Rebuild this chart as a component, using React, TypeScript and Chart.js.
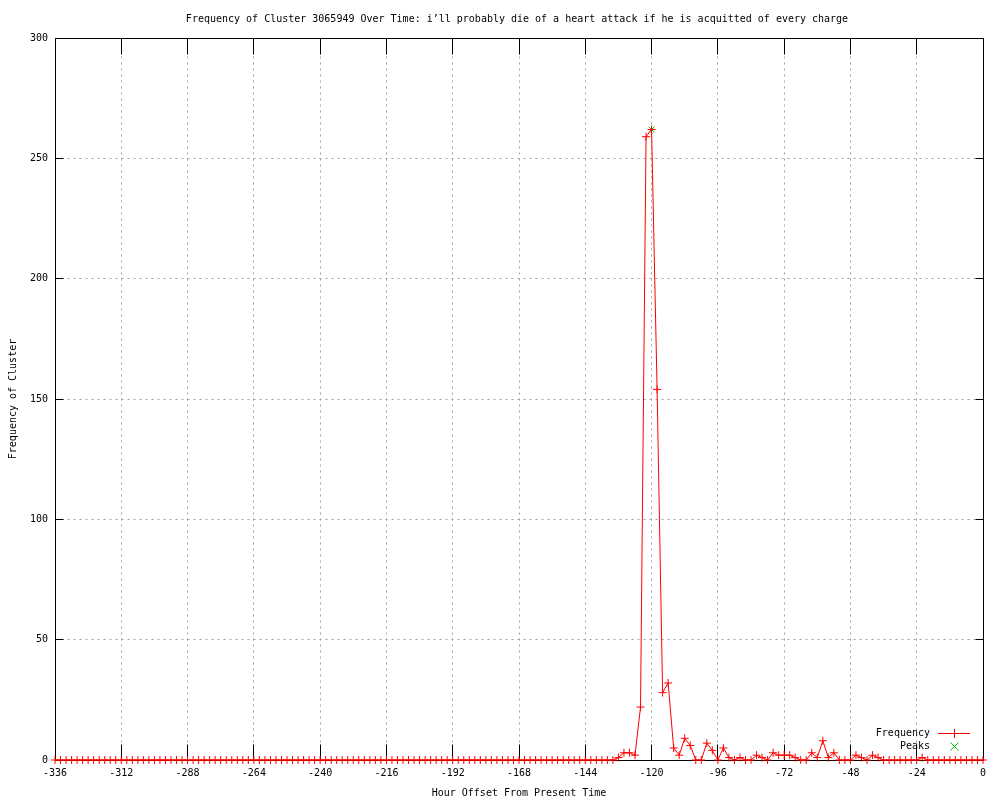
import React, { useEffect, useRef } from "react";
import { Chart, registerables } from "chart.js";

Chart.register(...registerables);

const TITLE =
  "Frequency of Cluster 3065949 Over Time: i\u2019ll probably die of a heart attack if he is acquitted of every charge";
const X_LABEL = "Hour Offset From Present Time";
const Y_LABEL = "Frequency of Cluster";

const hours = [
  -336, -334, -332, -330, -328, -326, -324, -322, -320, -318, -316, -314,
  -312, -310, -308, -306, -304, -302, -300, -298, -296, -294, -292, -290,
  -288, -286, -284, -282, -280, -278, -276, -274, -272, -270, -268, -266,
  -264, -262, -260, -258, -256, -254, -252, -250, -248, -246, -244, -242,
  -240, -238, -236, -234, -232, -230, -228, -226, -224, -222, -220, -218,
  -216, -214, -212, -210, -208, -206, -204, -202, -200, -198, -196, -194,
  -192, -190, -188, -186, -184, -182, -180, -178, -176, -174, -172, -170,
  -168, -166, -164, -162, -160, -158, -156, -154, -152, -150, -148, -146,
  -144, -142, -140, -138, -136, -134, -132, -130, -128, -126, -124, -122,
  -120, -118, -116, -114, -112, -110, -108, -106, -104, -102, -100, -98,
  -96, -94, -92, -90, -88, -86, -84, -82, -80, -78, -76, -74,
  -72, -70, -68, -66, -64, -62, -60, -58, -56, -54, -52, -50,
  -48, -46, -44, -42, -40, -38, -36, -34, -32, -30, -28, -26,
  -24, -22, -20, -18, -16, -14, -12, -10, -8, -6, -4, -2,
  0,
];

const frequency = [
  0, 0, 0, 0, 0, 0, 0, 0, 0, 0, 0, 0,
  0, 0, 0, 0, 0, 0, 0, 0, 0, 0, 0, 0,
  0, 0, 0, 0, 0, 0, 0, 0, 0, 0, 0, 0,
  0, 0, 0, 0, 0, 0, 0, 0, 0, 0, 0, 0,
  0, 0, 0, 0, 0, 0, 0, 0, 0, 0, 0, 0,
  0, 0, 0, 0, 0, 0, 0, 0, 0, 0, 0, 0,
  0, 0, 0, 0, 0, 0, 0, 0, 0, 0, 0, 0,
  0, 0, 0, 0, 0, 0, 0, 0, 0, 0, 0, 0,
  0, 0, 0, 0, 0, 0, 1, 3, 3, 2, 22, 259,
  262, 154, 28, 32, 5, 2, 9, 6, 0, 0, 7, 4,
  0, 5, 1, 0, 1, 0, 0, 2, 1, 0, 3, 2,
  2, 2, 1, 0, 0, 3, 1, 8, 1, 3, 0, 0,
  0, 2, 1, 0, 2, 1, 0, 0, 0, 0, 0, 0,
  0, 1, 0, 0, 0, 0, 0, 0, 0, 0, 0, 0,
  0,
];

const peakHours = [-120];
const peakValues = [262];

const xTickStep = 24;
const yTickStep = 50;
const xMin = -336;
const xMax = 0;
const yMin = 0;
const yMax = 300;

const FONT = "'DejaVu Sans Mono', 'Liberation Mono', monospace";

const gnuplotPlugin = {
  id: "gnuplotDecor",
  beforeDraw(chart: any) {
    const ctx = chart.ctx;
    ctx.save();
    ctx.fillStyle = "#ffffff";
    ctx.fillRect(0, 0, chart.width, chart.height);
    ctx.restore();
  },
  beforeDatasetsDraw(chart: any) {
    const { ctx, chartArea: a, scales } = chart;
    const xs = scales.x;
    const ys = scales.y;
    const L = Math.floor(a.left) + 0.5;
    const R = Math.floor(a.right) + 0.5;
    const T = Math.floor(a.top) + 0.5;
    const B = Math.floor(a.bottom) + 0.5;
    ctx.save();
    ctx.lineWidth = 1;
    // grid
    ctx.strokeStyle = "#a0a0a0";
    ctx.setLineDash([2, 4]);
    xs.ticks.forEach((t: any) => {
      const px = Math.floor(xs.getPixelForValue(t.value)) + 0.5;
      ctx.beginPath();
      ctx.moveTo(px, T);
      ctx.lineTo(px, B);
      ctx.stroke();
    });
    ys.ticks.forEach((t: any) => {
      const py = Math.floor(ys.getPixelForValue(t.value)) + 0.5;
      ctx.beginPath();
      ctx.moveTo(L, py);
      ctx.lineTo(R, py);
      ctx.stroke();
    });
    ctx.setLineDash([]);
    // ticks
    ctx.strokeStyle = "#000000";
    xs.ticks.forEach((t: any) => {
      const px = Math.floor(xs.getPixelForValue(t.value)) + 0.5;
      ctx.beginPath();
      ctx.moveTo(px, B);
      ctx.lineTo(px, B - 16);
      ctx.moveTo(px, T);
      ctx.lineTo(px, T + 16);
      ctx.stroke();
    });
    ys.ticks.forEach((t: any) => {
      const py = Math.floor(ys.getPixelForValue(t.value)) + 0.5;
      ctx.beginPath();
      ctx.moveTo(L, py);
      ctx.lineTo(L + 8, py);
      ctx.moveTo(R, py);
      ctx.lineTo(R - 8, py);
      ctx.stroke();
    });
    // border
    ctx.beginPath();
    ctx.rect(L, T, R - L, B - T);
    ctx.stroke();
    ctx.restore();
  },
  afterDraw(chart: any) {
    const { ctx, chartArea: a } = chart;
    ctx.save();
    ctx.fillStyle = "#000000";
    ctx.font = `10px ${FONT}`;
    ctx.textBaseline = "middle";
    // title
    ctx.textAlign = "center";
    ctx.fillText(TITLE, 517, 19);
    // x label
    ctx.fillText(X_LABEL, (a.left + a.right) / 2, 793);
    // y label
    ctx.save();
    ctx.translate(13, (a.top + a.bottom) / 2);
    ctx.rotate(-Math.PI / 2);
    ctx.fillText(Y_LABEL, 0, 0);
    ctx.restore();
    // legend
    ctx.textAlign = "right";
    ctx.fillText("Frequency", 930, 733);
    ctx.fillText("Peaks", 930, 746);
    ctx.strokeStyle = "#ff0000";
    ctx.lineWidth = 1;
    ctx.beginPath();
    ctx.moveTo(938, 733.5);
    ctx.lineTo(970, 733.5);
    ctx.moveTo(954.5, 729);
    ctx.lineTo(954.5, 738);
    ctx.stroke();
    ctx.strokeStyle = "#00c000";
    ctx.beginPath();
    ctx.moveTo(950.5, 742.5);
    ctx.lineTo(958.5, 750.5);
    ctx.moveTo(958.5, 742.5);
    ctx.lineTo(950.5, 750.5);
    ctx.stroke();
    ctx.restore();
  },
};

export default function App() {
  const ref = useRef<HTMLCanvasElement | null>(null);

  useEffect(() => {
    if (!ref.current) return;
    const freqData = hours.map((h, i) => ({ x: h, y: frequency[i] }));
    const peakData = peakHours.map((h, i) => ({ x: h, y: peakValues[i] }));
    const chart = new Chart(ref.current, {
      type: "line",
      data: {
        datasets: [
          {
            label: "Frequency",
            data: freqData,
            borderColor: "#ff0000",
            backgroundColor: "#ff0000",
            borderWidth: 1,
            pointStyle: "cross",
            pointRadius: 4,
            pointBorderColor: "#ff0000",
            pointBorderWidth: 1,
            pointHoverRadius: 4,
            tension: 0,
            fill: false,
            clip: false,
          } as any,
          {
            label: "Peaks",
            data: peakData,
            showLine: false,
            borderColor: "#00c000",
            backgroundColor: "#00c000",
            pointStyle: "crossRot",
            pointRadius: 4,
            pointBorderColor: "#00c000",
            pointBorderWidth: 1,
            clip: false,
          } as any,
        ],
      },
      options: {
        responsive: false,
        animation: false,
        events: [],
        layout: { padding: { left: 0, right: 17, top: 38, bottom: 0 } },
        plugins: {
          legend: { display: false },
          title: { display: false },
          tooltip: { enabled: false },
        },
        scales: {
          x: {
            type: "linear",
            min: xMin,
            max: xMax,
            grid: { display: false, drawTicks: false },
            border: { display: false },
            ticks: {
              stepSize: xTickStep,
              autoSkip: false,
              maxRotation: 0,
              padding: 7,
              color: "#000000",
              font: { family: FONT, size: 10 },
            },
            afterFit: (s: any) => {
              s.height = 40;
            },
          },
          y: {
            type: "linear",
            min: yMin,
            max: yMax,
            grid: { display: false, drawTicks: false },
            border: { display: false },
            ticks: {
              stepSize: yTickStep,
              autoSkip: false,
              padding: 7,
              color: "#000000",
              font: { family: FONT, size: 10 },
            },
            afterFit: (s: any) => {
              s.width = 55;
            },
          },
        },
      } as any,
      plugins: [gnuplotPlugin],
    });
    return () => chart.destroy();
  }, []);

  return (
    <div style={{ position: "absolute", left: 0, top: 0, width: 1000, height: 800, background: "#fff" }}>
      <canvas ref={ref} width={1000} height={800} style={{ display: "block", width: 1000, height: 800 }} />
    </div>
  );
}
